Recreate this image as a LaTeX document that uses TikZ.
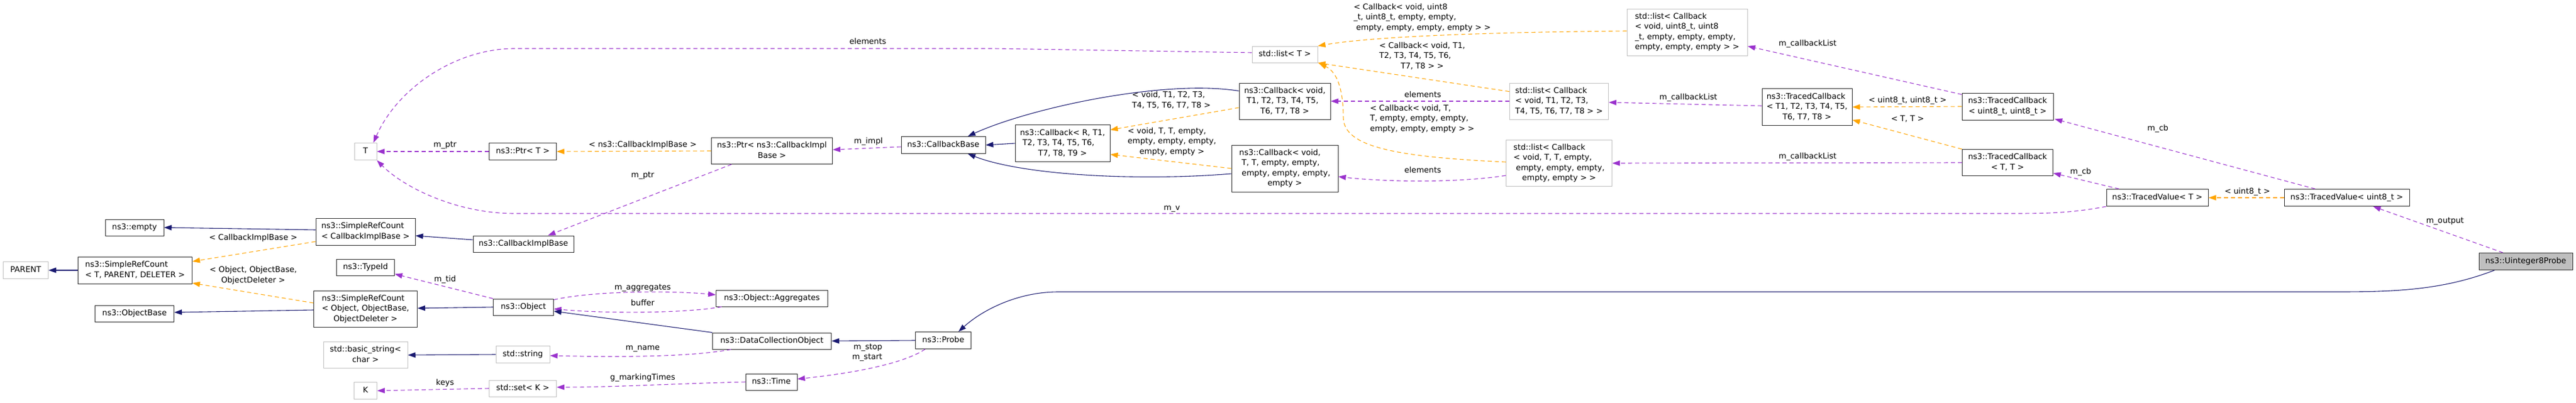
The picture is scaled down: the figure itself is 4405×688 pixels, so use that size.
\documentclass[tikz,border=0pt]{standalone}
\usepackage{fontspec}
\setmainfont{DejaVu Sans}
\usetikzlibrary{arrows.meta,calc}
\definecolor{navy}{HTML}{191970}
\definecolor{purp}{HTML}{9A32CD}
\definecolor{orng}{HTML}{FFA500}
\definecolor{gborder}{HTML}{BFBFBF}
\definecolor{gfill}{HTML}{BFBFBF}
\newcommand\nf{\fontsize{13.5}{17.5}\selectfont}
\newcommand\ml[2]{\begin{tabular}{@{}l@{}}#1\\\multicolumn{1}{@{}c@{}}{#2}\end{tabular}}
\newcommand\nd[7]{\node[#1, minimum width=#5pt, minimum height=#6pt] (#2) at (#3,#4) {#7};}
\begin{document}
\begin{tikzpicture}[x=1pt,y=-1pt,
  box/.style={rectangle, draw=black!85, line width=1pt, fill=white, inner sep=0pt, font=\nf},
  gbox/.style={box, draw=gborder},
  lab/.style={font=\nf, inner sep=0pt},
  inhedge/.style={navy, line width=1.1pt, -{Triangle[length=13pt,width=9pt]}},
  useedge/.style={purp, line width=1.1pt, dash pattern=on 7pt off 5pt, -{Triangle[length=13pt,width=9pt]}},
  tpledge/.style={orng, line width=1.1pt, dash pattern=on 7pt off 5pt, -{Triangle[length=13pt,width=9pt]}}]
\fill[white] (0,0) rectangle (4405,688);
\useasboundingbox (0,0) rectangle (4405,688);
% nodes
\nd{gbox}{parent}{44}{462}{77}{29}{\strut PARENT}
\nd{box}{srctpd}{231}{462}{195}{46}{\ml{ns3::SimpleRefCount}{< T, PARENT, DELETER >}}
\nd{box}{empty}{230}{389}{100}{28}{\strut ns3::empty}
\nd{box}{objbase}{230}{536}{135}{28}{\strut ns3::ObjectBase}
\nd{box}{srccib}{625}{396}{170}{46}{\ml{ns3::SimpleRefCount}{< CallbackImplBase >}}
\nd{box}{typeid}{625}{457}{99}{28}{\strut ns3::TypeId}
\nd{box}{srcobj}{625}{528}{177}{62}{\ml{ns3::SimpleRefCount\\< Object, ObjectBase,}{ObjectDeleter >}}
\nd{gbox}{bstr}{625}{607}{144}{45}{\ml{std::basic\_string<}{char >}}
\nd{gbox}{K}{625}{668}{39}{29}{\strut K}
\nd{gbox}{T}{625}{259}{38}{29}{\strut T}
\nd{box}{ptrt}{894}{259}{115}{29}{\strut ns3::Ptr< T >}
\nd{box}{cib}{895}{417}{172}{28}{\strut ns3::CallbackImplBase}
\nd{box}{object}{895}{525}{103}{28}{\strut ns3::Object}
\nd{gbox}{string}{894}{606}{92}{29}{\strut std::string}
\nd{gbox}{setk}{894}{664}{115}{28}{\strut std::set< K >}
\nd{box}{ptrcib}{1320}{258}{207}{45}{\ml{ns3::Ptr< ns3::CallbackImpl}{Base >}}
\nd{box}{aggr}{1320}{510}{191}{28}{\strut ns3::Object::Aggregates}
\nd{box}{dco}{1320}{583}{203}{28}{\strut ns3::DataCollectionObject}
\nd{box}{time}{1319}{653}{88}{28}{\strut ns3::Time}
\nd{box}{cbbase}{1613}{248}{144}{29}{\strut ns3::CallbackBase}
\nd{box}{probe}{1613}{582}{95}{29}{\strut ns3::Probe}
\nd{box}{cbr}{1817}{245}{162}{63}{\ml{ns3::Callback< R, T1,\\\ T2, T3, T4, T5, T6,}{T7, T8, T9 >}}
\nd{gbox}{listt}{2197}{93}{112}{28}{\strut std::list< T >}
\nd{box}{cbt}{2197}{173}{156}{62}{\ml{ns3::Callback< void,\\\ T1, T2, T3, T4, T5,}{T6, T7, T8 >}}
\nd{box}{cbtt}{2197}{288}{182}{80}{\ml{ns3::Callback< void,\\\ T, T, empty, empty,\\\ empty, empty, empty,}{empty >}}
\nd{gbox}{listu}{2885}{55}{206}{80}{\ml{std::list< Callback\\< void, uint8\_t, uint8\\\_t, empty, empty, empty,}{empty, empty, empty > >}}
\nd{gbox}{listtn}{2666}{173}{169}{62}{\ml{std::list< Callback\\< void, T1, T2, T3,}{T4, T5, T6, T7, T8 > >}}
\nd{gbox}{listtt}{2666}{279}{181}{79}{\ml{std::list< Callback\\< void, T, T, empty,\\\ empty, empty, empty,}{empty, empty > >}}
\nd{box}{tcn}{3090}{183}{154}{63}{\ml{ns3::TracedCallback\\< T1, T2, T3, T4, T5,}{T6, T7, T8 >}}
\nd{box}{tcu}{3433}{182}{156}{46}{\ml{ns3::TracedCallback}{< uint8\_t, uint8\_t >}}
\nd{box}{tctt}{3433}{278}{155}{45}{\ml{ns3::TracedCallback}{< T, T >}}
\nd{box}{tvt}{3689}{338}{174}{29}{\strut ns3::TracedValue< T >}
\nd{box}{tvu}{4013}{338}{214}{29}{\strut ns3::TracedValue< uint8\_t >}
\nd{box, fill=gfill}{probe8}{4319}{447}{160}{29}{\strut ns3::Uinteger8Probe}
% edges
\draw[inhedge] (srctpd.west) -- (parent.east);
\draw[inhedge] ($(srccib.west)+(0,-3)$) -- (empty.east);
\draw[tpledge] ($(srccib.west)+(0,17)$) -- ($(srctpd.east)+(0,-15)$);
\draw[tpledge] ($(srcobj.west)+(0,-10)$) -- ($(srctpd.east)+(0,22)$);
\draw[inhedge] ($(srcobj.west)+(0,2)$) -- ($(objbase.east)+(0,-2)$);
\draw[inhedge] (object.west) -- ($(srcobj.east)+(0,-1)$);
\draw[inhedge] ($(cib.west)+(0,-7)$) -- ($(srccib.east)+(0,7)$);
\draw[useedge] (object.north west) -- ($(typeid.south east)+(0,-3)$);
\draw[useedge] ($(object.north east)+(0,2)$) .. controls (1010,498) and (1140,496) .. ($(aggr.west)+(0,-6)$);
\draw[useedge] ($(aggr.south west)+(10,0)$) .. controls (1170,536) and (1030,536) .. ($(object.east)+(0,3)$);
\draw[inhedge] (dco.north west) -- ($(object.east)+(0,7)$);
\draw[useedge] ($(dco.south west)+(32,0)$) .. controls (1170,612) and (1030,610) .. ($(string.east)+(0,2)$);
\draw[inhedge] (string.west) -- (bstr.east);
\draw[useedge] (setk.west) -- (K.east);
\draw[useedge] (time.west) .. controls (1150,656) and (1050,662) .. ($(setk.east)+(0,-2)$);
\draw[inhedge] (probe.west) -- (dco.east);
\draw[useedge] ($(probe.south west)+(17,0)$) .. controls (1540,625) and (1440,640) .. ($(time.east)+(0,-5)$);
\draw[inhedge] ($(probe8.south west)+(27,0)$) .. controls (4180,495) and (4100,499) .. (4000,499) -- (1810,499) .. controls (1740,499) and (1680,530) .. ($(probe.north)+(26,0)$);
\draw[useedge] ($(probe8.north)+(-39,0)$) -- ($(tvu.south)+(45,0)$);
\draw[tpledge] (tvu.west) -- (tvt.east);
\draw[useedge] ($(tvu.north)+(-54,0)$) -- ($(tcu.south east)+(2,-2)$);
\draw[useedge] ($(tvt.north west)+(22,0)$) -- ($(tctt.south east)+(0,-5)$);
\draw[useedge] (tvt.south west) .. controls (3540,365) and (3490,365) .. (3440,365) -- (880,365) .. controls (780,365) and (690,320) .. (T.south east);
\draw[useedge] ($(listt.west)+(0,-3)$) -- (1700,83) -- (880,83) .. controls (780,83) and (680,150) .. ($(T.north east)+(-6,0)$);
\draw[tpledge] (tcu.west) -- (tcn.east);
\draw[tpledge] (tctt.north west) -- ($(tcn.east)+(0,22)$);
\draw[useedge] ($(tcu.north west)+(0,3)$) -- ($(listu.east)+(0,24)$);
\draw[useedge] ($(tcn.west)+(0,-2)$) -- ($(listtn.east)+(0,2)$);
\draw[useedge] (tctt.west) -- (listtt.east);
\draw[tpledge] ($(listu.west)+(0,-2)$) .. controls (2550,55) and (2350,62) .. (listt.north east);
\draw[tpledge] ($(listtn.north west)+(0,15)$) -- (listt.south east);
\draw[tpledge] ($(listtt.west)+(0,-2)$) .. controls (2380,268) and (2297,250) .. (2297,200) .. controls (2297,150) and (2285,122) .. ($(listt.south east)+(2,1)$);
\draw[useedge] (listtn.west) -- (cbt.east);
\draw[useedge] ($(listtt.west)+(0,21)$) .. controls (2500,312) and (2380,312) .. ($(cbtt.east)+(0,14)$);
\draw[tpledge] ($(cbt.west)+(0,11)$) -- ($(cbr.east)+(0,-23)$);
\draw[tpledge] (cbtt.west) -- ($(cbr.east)+(0,19)$);
\draw[inhedge] (cbr.west) -- (cbbase.east);
\draw[inhedge] ($(cbt.north west)+(0,14)$) .. controls (1990,135) and (1760,185) .. ($(cbbase.north)+(42,0)$);
\draw[inhedge] ($(cbtt.west)+(0,9)$) .. controls (1950,310) and (1750,300) .. ($(cbbase.south)+(42,0)$);
\draw[useedge] ($(cbbase.west)+(0,3)$) -- ($(ptrcib.east)+(0,-2)$);
\draw[tpledge] (ptrcib.west) -- (ptrt.east);
\draw[useedge] ($(ptrcib.south west)+(35,0)$) -- ($(cib.north)+(42,0)$);
\draw[useedge] (ptrt.west) -- (T.east);
% labels
\node[lab] (l1) at (433,407) {\strut < CallbackImplBase >};
\node[lab] (l2) at (433,471) {\ml{< Object, ObjectBase,}{ObjectDeleter >}};
\node[lab] (l3) at (761,478) {\strut m\_tid};
\node[lab] (l4) at (1099,492) {\strut m\_aggregates};
\node[lab] (l5) at (1099,519) {\strut buffer};
\node[lab] (l6) at (1099,595) {\strut m\_name};
\node[lab] (l7) at (761,655) {\strut keys};
\node[lab] (l8) at (1099,646) {\strut g\_markingTimes};
\node[lab, align=right] (l9) at (1483,603) {m\_stop\\m\_start};
\node[lab] (l10) at (761,248) {\strut m\_ptr};
\node[lab] (l11) at (1099,248) {\strut < ns3::CallbackImplBase >};
\node[lab] (l12) at (1099,300) {\strut m\_ptr};
\node[lab] (l13) at (1485,242) {\strut m\_impl};
\node[lab] (l14) at (1484,72) {\strut elements};
\node[lab] (l15) at (2004,356) {\strut m\_v};
\node[lab] (l16) at (2003,172) {\ml{< void, T1, T2, T3,}{T4, T5, T6, T7, T8 >}};
\node[lab] (l17) at (2004,242) {\ml{< void, T, T, empty,\\empty, empty, empty,}{empty, empty >}};
\node[lab] (l18) at (2432,30) {\ml{< Callback< void, uint8\\\_t, uint8\_t, empty, empty,}{\ empty, empty, empty, empty > >}};
\node[lab] (l19) at (2432,96) {\ml{< Callback< void, T1,\\T2, T3, T4, T5, T6,}{T7, T8 > >}};
\node[lab] (l20) at (2433,163) {\strut elements};
\node[lab] (l21) at (2432,203) {\ml{< Callback< void, T,\\T, empty, empty, empty,}{empty, empty, empty > >}};
\node[lab] (l22) at (2433,292) {\strut elements};
\node[lab] (l23) at (3091,75) {\strut m\_callbackList};
\node[lab] (l24) at (2887,167) {\strut m\_callbackList};
\node[lab] (l25) at (3091,268) {\strut m\_callbackList};
\node[lab] (l26) at (3262,172) {\strut < uint8\_t, uint8\_t >};
\node[lab] (l27) at (3262,204) {\strut < T, T >};
\node[lab] (l28) at (3690,220) {\strut m\_cb};
\node[lab] (l29) at (3558,294) {\strut m\_cb};
\node[lab] (l30) at (3843,328) {\strut < uint8\_t >};
\node[lab] (l31) at (4181,378) {\strut m\_output};
\end{tikzpicture}
\end{document}
